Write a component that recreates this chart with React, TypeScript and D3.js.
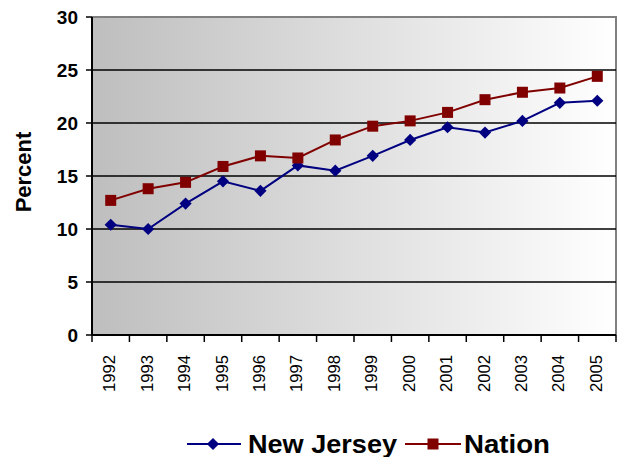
import React from "react";
import * as d3 from "d3";

const years = ["1992","1993","1994","1995","1996","1997","1998","1999","2000","2001","2002","2003","2004","2005"];
const newJersey = [10.4, 10.0, 12.4, 14.5, 13.6, 16.0, 15.5, 16.9, 18.4, 19.6, 19.1, 20.2, 21.9, 22.1];
const nation = [12.7, 13.8, 14.4, 15.9, 16.9, 16.7, 18.4, 19.7, 20.2, 21.0, 22.2, 22.9, 23.3, 24.4];
const yTicks = [0, 5, 10, 15, 20, 25, 30];

const W = 618, H = 457;
const left = 92, right = 616, top = 17, bottom = 335;

export default function App() {
  const x = d3.scaleBand<string>().domain(years).range([left, right]);
  const y = d3.scaleLinear().domain([0, 30]).range([bottom, top]);
  const cx = (yr: string) => (x(yr) as number) + x.bandwidth() / 2;
  const line = d3.line<number>().x((_, i) => cx(years[i])).y((v) => y(v));
  const font = "Arial, 'Liberation Sans', sans-serif";
  const diamond = d3.symbol(d3.symbolDiamond2, 95)();
  const bounds = [...years.map((yr) => x(yr) as number), right];

  return (
    <svg width={W} height={H} style={{ position: "absolute", left: 0, top: 0 }} fontFamily={font}>
      <defs>
        <linearGradient id="bg" x1="0" x2="1" y1="0" y2="0">
          <stop offset="0" stopColor="#bebebe" />
          <stop offset="1" stopColor="#ffffff" />
        </linearGradient>
      </defs>
      <rect x={left} y={top} width={right - left} height={bottom - top} fill="url(#bg)" />
      {/* plot border */}
      <path d={`M${left},${top}H${right}V${bottom}`} fill="none" stroke="#808080" strokeWidth={2} />
      {/* gridlines */}
      {yTicks.filter((t) => t > 0 && t < 30).map((t) => (
        <line key={t} x1={left} x2={right} y1={y(t)} y2={y(t)} stroke="#000" strokeWidth={1.5} />
      ))}
      {/* y axis */}
      <line x1={left} x2={left} y1={top} y2={bottom} stroke="#000" strokeWidth={2} />
      {yTicks.map((t) => (
        <g key={t}>
          <line x1={left - 6} x2={left} y1={y(t)} y2={y(t)} stroke="#000" strokeWidth={1.5} />
          <text x={78} y={y(t)} dy="0.36em" textAnchor="end" fontSize={19} fontWeight="bold">{t}</text>
        </g>
      ))}
      {/* x axis */}
      <line x1={left} x2={right} y1={bottom} y2={bottom} stroke="#000" strokeWidth={2} />
      {bounds.map((b, i) => (
        <line key={i} x1={b} x2={b} y1={bottom} y2={bottom + 7} stroke="#000" strokeWidth={1.5} />
      ))}
      {years.map((yr) => (
        <text key={yr} transform={`translate(${cx(yr) + 4.5},392) rotate(-90)`} fontSize={17}
          textLength={37} lengthAdjust="spacingAndGlyphs">{yr}</text>
      ))}
      <text transform={`translate(31,172) rotate(-90)`} textAnchor="middle" fontSize={22} fontWeight="bold">Percent</text>

      {/* series */}
      <path d={line(newJersey) as string} fill="none" stroke="#000080" strokeWidth={2} />
      <path d={line(nation) as string} fill="none" stroke="#800000" strokeWidth={2} />
      {newJersey.map((v, i) => (
        <path key={i} d={diamond as string} transform={`translate(${cx(years[i])},${y(v)})`} fill="#000080" />
      ))}
      {nation.map((v, i) => (
        <rect key={i} x={cx(years[i]) - 5.5} y={y(v) - 5.5} width={11} height={11} fill="#800000" />
      ))}

      {/* legend */}
      <line x1={187} x2={241} y1={444} y2={444} stroke="#000080" strokeWidth={2} />
      <path d={diamond as string} transform="translate(213,444)" fill="#000080" />
      <text x={248} y={453} fontSize={25} fontWeight="bold" textLength={149} lengthAdjust="spacingAndGlyphs">New Jersey</text>
      <line x1={405} x2={461} y1={444} y2={444} stroke="#800000" strokeWidth={2} />
      <rect x={427.5} y={438.5} width={11} height={11} fill="#800000" />
      <text x={464} y={453} fontSize={25} fontWeight="bold" textLength={86} lengthAdjust="spacingAndGlyphs">Nation</text>
    </svg>
  );
}
